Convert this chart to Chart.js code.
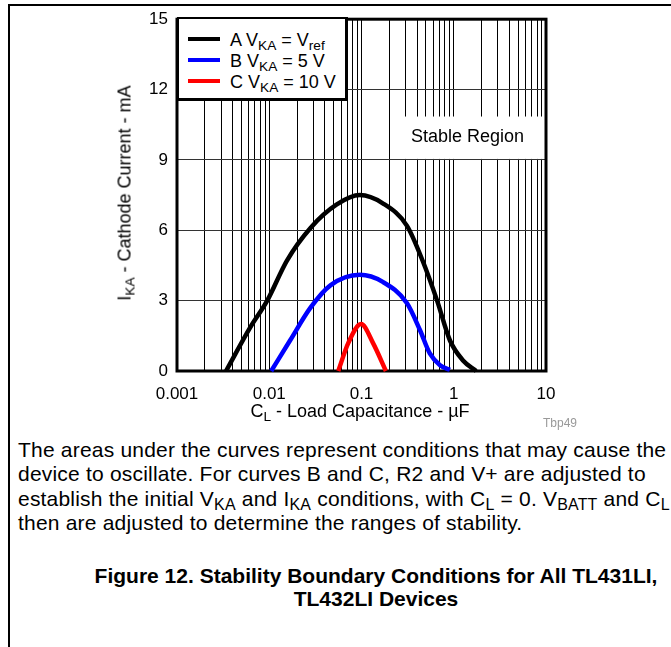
<!DOCTYPE html>
<html>
<head>
<meta charset="utf-8">
<script src="https://cdn.jsdelivr.net/npm/chart.js@4/dist/chart.umd.min.js"></script>
<style>
  body { margin: 0; background: #fff; font-family: 'Liberation Sans', Arial, sans-serif; color: #000; }
  #page { position: relative; width: 671px; height: 647px; overflow: hidden; }
  #frame { position: absolute; left: 8px; top: 4px; width: 700px; height: 700px; border-top: 2px solid #000; border-left: 2px solid #000; }
  #chart { position: absolute; left: 0; top: 0; }
  .legend { position: absolute; left: 177px; top: 17px; width: 166px; height: 79px; background: #fff;
    border: 2px solid #000; border-right-width: 3px; border-bottom-width: 3px; }
  .legend .row { position: absolute; left: 9px; height: 20px; font-size: 18px; line-height: 20px; white-space: nowrap; }
  .legend .swatch { display: inline-block; width: 32px; height: 4px; vertical-align: middle; margin-right: 10px; position: relative; top: -2px; }
  sub { font-size: 0.76em; vertical-align: -0.28em; line-height: 0; }
  .xtitle { position: absolute; left: 200px; width: 320px; top: 401px; text-align: center; font-size: 18px; white-space: nowrap; }
  .ytitle { position: absolute; left: 125px; top: 193px; font-size: 18px; white-space: nowrap;
    transform: translate(-50%, -50%) rotate(-90deg); }
  .stable { position: absolute; left: 390px; width: 155px; top: 126px; text-align: center; font-size: 18px; }
  .mark { position: absolute; left: 543px; top: 416px; font-size: 12px; color: #999; }
  .para { position: absolute; left: 18px; top: 438px; font-size: 21px; letter-spacing: 0.2px; line-height: 24.3px; white-space: nowrap; }
  .caption { position: absolute; left: 60px; width: 632px; top: 564px; text-align: center; font-size: 21px; font-weight: bold; line-height: 23px; }
</style>
</head>
<body>
<div id="page">
  <div id="frame"></div>
  <canvas id="chart" width="671" height="430"></canvas>

  <div class="legend">
    <div class="row" style="top: 11px"><span class="swatch" style="background:#000"></span>A V<sub>KA</sub> = V<sub>ref</sub></div>
    <div class="row" style="top: 32px"><span class="swatch" style="background:#0000ff"></span>B V<sub>KA</sub> = 5 V</div>
    <div class="row" style="top: 53px"><span class="swatch" style="background:#ff0000"></span>C V<sub>KA</sub> = 10 V</div>
  </div>

  <div class="stable">Stable Region</div>
  <div class="xtitle">C<sub>L</sub> - Load Capacitance - µF</div>
  <div class="ytitle">I<sub>KA</sub> - Cathode Current - mA</div>
  <div class="mark">Tbp49</div>

  <div class="para">
    The areas under the curves represent conditions that may cause the<br>
    device to oscillate. For curves B and C, R2 and V+ are adjusted to<br>
    establish the initial V<sub>KA</sub> and I<sub>KA</sub> conditions, with C<sub>L</sub> = 0. V<sub>BATT</sub> and C<sub>L</sub><br>
    then are adjusted to determine the ranges of stability.
  </div>

  <div class="caption">Figure 12. Stability Boundary Conditions for All TL431LI,<br>TL432LI Devices</div>
</div>

<script>
// curve A: V_KA = Vref
const capA = [0.0034, 0.0062, 0.0095, 0.0155, 0.028, 0.054, 0.096, 0.17, 0.31, 0.46, 0.66, 0.91, 1.26, 1.75];
const curA = [0, 1.85, 3.0, 4.7, 6.1, 7.1, 7.5, 7.15, 6.2, 4.7, 3.0, 1.3, 0.45, 0];

// curve B: V_KA = 5 V
const capB = [0.0105, 0.0168, 0.028, 0.046, 0.096, 0.17, 0.31, 0.43, 0.55, 0.71, 0.91];
const curB = [0, 1.3, 2.7, 3.65, 4.1, 3.8, 2.9, 1.75, 0.75, 0.25, 0.05];

// curve C: V_KA = 10 V
const capC = [0.056, 0.072, 0.099, 0.133, 0.184];
const curC = [0, 1.2, 2.0, 1.2, 0];

const xTickLabels = [0.001, 0.01, 0.1, 1, 10];
const yTicks = [0, 3, 6, 9, 12, 15];
const minorSteps = [1, 2, 3, 4, 5, 6, 7, 8, 9];

// region left blank behind the "Stable Region" label
const stableBox = { from: 0.2, top: 10.85, bottom: 9 };

const FONT = "'Liberation Sans', Arial, sans-serif";

function points(xs, ys) {
  return xs.map((x, i) => ({ x, y: ys[i] }));
}

// every 1..9 multiple in each decade for the vertical grid
const xGrid = [];
xTickLabels.slice(0, -1).forEach(d => minorSteps.forEach(m => xGrid.push(+(d * m).toPrecision(3))));
xGrid.push(xTickLabels[xTickLabels.length - 1]);

const framePlugin = {
  id: 'framePlugin',
  beforeDatasetsDraw(chart) {
    const { ctx, chartArea: a, scales: { x, y } } = chart;
    ctx.save();
    const bx = Math.round(x.getPixelForValue(stableBox.from)) + 1;
    const top = y.getPixelForValue(stableBox.top);
    const bot = y.getPixelForValue(stableBox.bottom) - 1;
    ctx.fillStyle = '#fff';
    ctx.fillRect(bx, top, a.right - bx, bot - top);
    ctx.lineWidth = 3;
    ctx.strokeStyle = '#000';
    ctx.strokeRect(a.left, a.top, a.right - a.left, a.bottom - a.top);
    ctx.restore();
  }
};

const line = (data, color) => ({
  data,
  borderColor: color,
  borderWidth: 4.5,
  pointRadius: 0,
  cubicInterpolationMode: 'monotone',
  borderCapStyle: 'butt',
  clip: 6
});

new Chart(document.getElementById('chart'), {
  type: 'line',
  data: {
    datasets: [
      line(points(capA, curA), '#000000'),
      line(points(capB, curB), '#0000ff'),
      line(points(capC, curC), '#ff0000')
    ]
  },
  options: {
    responsive: false,
    animation: false,
    devicePixelRatio: 1,
    layout: { padding: { top: 17, right: 125, left: 100, bottom: 0 } },
    plugins: { legend: { display: false }, tooltip: { enabled: false } },
    scales: {
      x: {
        type: 'logarithmic',
        min: 0.001,
        max: 10,
        afterBuildTicks: scale => { scale.ticks = xGrid.map(v => ({ value: v })); },
        afterFit: scale => { scale.height = 59; },
        border: { display: false },
        grid: { color: '#000', lineWidth: 1, drawTicks: false },
        ticks: {
          autoSkip: false,
          maxRotation: 0,
          padding: 13,
          color: '#000',
          font: { family: FONT, size: 17 },
          callback: v => xTickLabels.includes(v) ? String(v) : ''
        }
      },
      y: {
        min: 0,
        max: 15,
        afterBuildTicks: scale => { scale.ticks = yTicks.map(v => ({ value: v })); },
        afterFit: scale => { scale.width = 77; },
        border: { display: false },
        grid: { color: '#333', lineWidth: 1, drawTicks: false },
        ticks: {
          padding: 9,
          color: '#000',
          font: { family: FONT, size: 17 }
        }
      }
    }
  },
  plugins: [framePlugin]
});
</script>
</body>
</html>
